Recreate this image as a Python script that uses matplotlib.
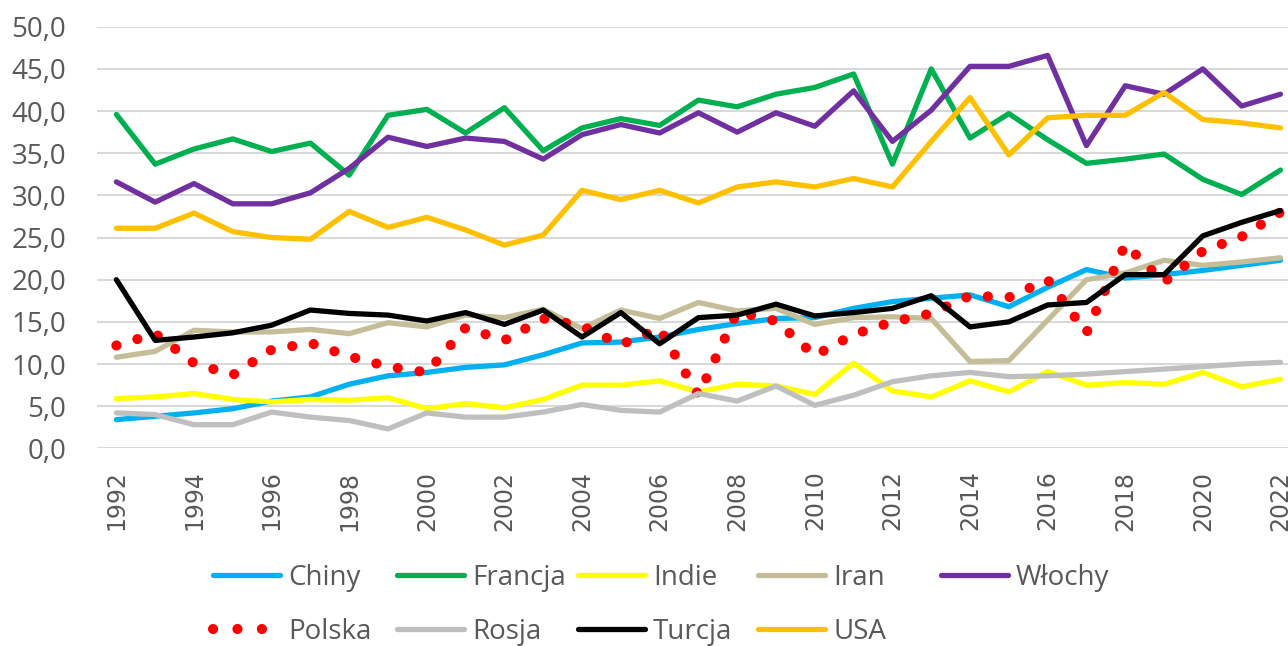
import matplotlib
matplotlib.use("Agg")
import matplotlib.pyplot as plt
from matplotlib.lines import Line2D
from matplotlib.ticker import FuncFormatter, MultipleLocator

years = list(range(1992, 2023))

chiny = [3.4, 3.8, 4.2, 4.7, 5.6, 6.1, 7.6, 8.6, 9.0, 9.6, 9.9, 11.1, 12.5, 12.6, 13.2, 14.1,
         14.8, 15.4, 15.5, 16.6, 17.4, 17.8, 18.2, 16.8, 19.1, 21.2, 20.2, 20.6, 21.1, 21.7, 22.3]
francja = [39.6, 33.7, 35.5, 36.7, 35.2, 36.2, 32.4, 39.5, 40.2, 37.4, 40.4, 35.3, 38.0, 39.1, 38.3, 41.3,
           40.5, 42.0, 42.8, 44.4, 33.7, 45.0, 36.8, 39.7, 36.6, 33.8, 34.3, 34.9, 31.9, 30.1, 33.0]
indie = [5.9, 6.1, 6.5, 5.8, 5.5, 5.8, 5.7, 6.0, 4.7, 5.3, 4.8, 5.8, 7.5, 7.5, 8.0, 6.7,
         7.6, 7.4, 6.4, 10.1, 6.8, 6.1, 8.0, 6.7, 9.1, 7.5, 7.8, 7.6, 9.0, 7.3, 8.2]
iran = [10.8, 11.5, 14.0, 13.8, 13.8, 14.1, 13.6, 14.9, 14.4, 15.8, 15.5, 16.5, 14.2, 16.4, 15.4, 17.3,
        16.3, 16.6, 14.7, 15.5, 15.6, 15.4, 10.3, 10.4, 15.2, 20.0, 20.8, 22.3, 21.7, 22.1, 22.6]
wlochy = [31.6, 29.2, 31.4, 29.0, 29.0, 30.3, 33.2, 36.9, 35.8, 36.8, 36.4, 34.3, 37.2, 38.4, 37.4, 39.8,
          37.5, 39.8, 38.2, 42.4, 36.4, 40.1, 45.3, 45.3, 46.6, 35.9, 43.0, 42.0, 45.0, 40.6, 42.0]
polska = [12.2, 13.6, 10.1, 8.7, 11.7, 12.5, 10.9, 9.7, 9.0, 14.3, 12.8, 15.4, 14.5, 12.3, 14.2, 6.3,
          16.2, 15.1, 11.0, 13.5, 15.0, 16.0, 18.1, 17.9, 20.0, 13.7, 24.2, 19.7, 23.4, 25.1, 28.0]
rosja = [4.2, 4.0, 2.8, 2.8, 4.3, 3.7, 3.3, 2.3, 4.2, 3.7, 3.7, 4.3, 5.2, 4.5, 4.3, 6.5,
         5.6, 7.4, 5.1, 6.3, 7.9, 8.6, 9.0, 8.5, 8.6, 8.8, 9.1, 9.4, 9.7, 10.0, 10.2]
turcja = [20.0, 12.8, 13.2, 13.7, 14.6, 16.4, 16.0, 15.8, 15.1, 16.1, 14.7, 16.4, 13.2, 16.1, 12.4, 15.5,
          15.8, 17.1, 15.7, 16.1, 16.6, 18.1, 14.4, 15.0, 17.0, 17.3, 20.6, 20.6, 25.2, 26.8, 28.2]
usa = [26.1, 26.1, 27.9, 25.7, 25.0, 24.8, 28.1, 26.2, 27.4, 25.9, 24.1, 25.3, 30.6, 29.5, 30.6, 29.1,
       31.0, 31.6, 31.0, 32.0, 31.0, 36.4, 41.6, 34.8, 39.2, 39.5, 39.5, 42.2, 39.0, 38.6, 38.0]

# draw order = legend order (Excel series order)
series = [
    ("Chiny", chiny, "#00B0F0"),
    ("Francja", francja, "#00B050"),
    ("Indie", indie, "#FFFF00"),
    ("Iran", iran, "#C4BD97"),
    ("Włochy", wlochy, "#7030A0"),
    ("Polska", polska, "#FF0000"),
    ("Rosja", rosja, "#BFBFBF"),
    ("Turcja", turcja, "#000000"),
    ("USA", usa, "#FFC000"),
]

text_color = "#595959"

fig = plt.figure(figsize=(12.88, 6.46), dpi=100)
ax = fig.add_axes([0.0753, 0.306, 0.9339, 0.6526])

handles = []
for name, vals, col in series:
    if name == "Polska":
        ln, = ax.plot(years, vals, color=col, lw=7.3, linestyle=(0, (0.01, 2.15)),
                      dash_capstyle="round", label=name)
        # legend shows three round dots
        h = Line2D([], [], color=col, lw=7.3, linestyle=(0, (0.01, 2.4)),
                   dash_capstyle="round")
    else:
        ln, = ax.plot(years, vals, color=col, lw=3.8, solid_capstyle="round",
                      solid_joinstyle="round", label=name)
        h = ln
    handles.append((h, name))

ax.set_xlim(1991.5, 2022.5)
ax.set_ylim(0, 50)
ax.yaxis.set_major_locator(MultipleLocator(5))
ax.yaxis.set_major_formatter(FuncFormatter(lambda v, p: f"{v:.1f}".replace(".", ",")))
ax.set_xticks(years[::2])
ax.set_xticklabels([str(y) for y in years[::2]], rotation=90, fontsize=17,
                   family="DejaVu Sans", color=text_color)
for lab in ax.get_yticklabels():
    lab.set_family("Open Sans")
    lab.set_fontsize(20)
    lab.set_color(text_color)

ax.tick_params(axis="both", length=0)
ax.tick_params(axis="x", pad=16)
ax.tick_params(axis="y", pad=22)
ax.grid(axis="y", color="#D9D9D9", lw=1.5)
ax.set_axisbelow(True)
for s in ax.spines.values():
    s.set_visible(False)

# legend: two rows, evenly spaced columns like in Excel
col_x = [213, 397, 578, 758, 941]
row_y = [578, 632]
for i, (h, name) in enumerate(handles):
    r, c = divmod(i, 5)
    leg = fig.legend([h], [name], loc="center left",
                     bbox_to_anchor=(col_x[c] / 1288, 1 - row_y[r] / 646),
                     frameon=False, borderpad=0, borderaxespad=0,
                     handlelength=2.4, handletextpad=0.3,
                     prop={"family": "Open Sans", "size": 20})
    for t in leg.get_texts():
        t.set_color(text_color)

fig.savefig("out.png", dpi=100)
